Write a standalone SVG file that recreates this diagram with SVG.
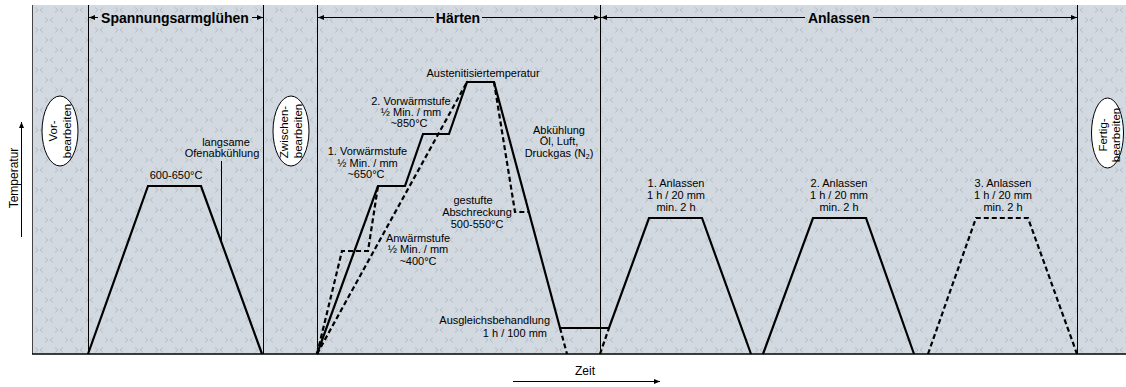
<svg xmlns="http://www.w3.org/2000/svg" width="1126" height="387" viewBox="0 0 1126 387">
<style>
text{font-family:"Liberation Sans",Arial,sans-serif;fill:#000}
.h{font-size:14px;font-weight:bold;text-anchor:middle}
.l{font-size:11px;text-anchor:middle}
.e{font-size:11.5px;text-anchor:middle}
.sep{stroke:#000;stroke-width:1;fill:none}
.c{stroke:#000;stroke-width:2.2;fill:none;stroke-linejoin:miter}
.d{stroke:#000;stroke-width:2.2;fill:none;stroke-dasharray:5 3}
.thin{stroke:#000;stroke-width:1;fill:none}
.node{fill:#fff;stroke:#000;stroke-width:1}
</style>
<defs>
<pattern id="pat" patternUnits="userSpaceOnUse" x="14" y="5" width="20" height="20">
<path d="M1,2.5 L4,5 L1,7.5 M9,2.5 L6,5 L9,7.5 M11,12.5 L14,15 L11,17.5 M19,12.5 L16,15 L19,17.5" stroke="#b6bec6" stroke-width="1" fill="none"/>
</pattern>
<marker id="ah" markerUnits="userSpaceOnUse" markerWidth="7" markerHeight="6" refX="6" refY="2.5" orient="auto">
<path d="M0,0 L6,2.5 L0,5 z" fill="#000"/>
</marker>
</defs>
<g id="background">
<rect x="32" y="5" width="1094" height="349" fill="#d2d9e0"/>
<rect x="32" y="5" width="1094" height="349" fill="url(#pat)"/>
<line x1="32.5" y1="5" x2="32.5" y2="354" stroke="#444" stroke-width="1"/>
<line x1="32" y1="354" x2="1126" y2="354" stroke="#000" stroke-width="1.5"/>
</g>
<g id="separators">
<line class="sep" x1="88.5" y1="5" x2="88.5" y2="354"/>
<line class="sep" x1="263.5" y1="5" x2="263.5" y2="354"/>
<line class="sep" x1="317.5" y1="5" x2="317.5" y2="354"/>
<line class="sep" x1="600.5" y1="5" x2="600.5" y2="354"/>
<line class="sep" x1="1077.5" y1="5" x2="1077.5" y2="354"/>
</g>
<g id="connectors">
<line class="thin" x1="98" y1="17.5" x2="89" y2="17.5" marker-end="url(#ah)"/>
<line class="thin" x1="252" y1="17.5" x2="263" y2="17.5" marker-end="url(#ah)"/>
<line class="thin" x1="434" y1="17.5" x2="318" y2="17.5" marker-end="url(#ah)"/>
<line class="thin" x1="482" y1="17.5" x2="600" y2="17.5" marker-end="url(#ah)"/>
<line class="thin" x1="805" y1="17.5" x2="601" y2="17.5" marker-end="url(#ah)"/>
<line class="thin" x1="873" y1="17.5" x2="1077" y2="17.5" marker-end="url(#ah)"/>
<line class="thin" x1="21.5" y1="237" x2="21.5" y2="122" marker-end="url(#ah)"/>
<line class="thin" x1="513" y1="381.5" x2="660" y2="381.5" marker-end="url(#ah)"/>
<line class="thin" x1="221.5" y1="161" x2="221.5" y2="241"/>
</g>
<g id="headers">
<text class="h" x="175" y="23">Spannungsarmglühen</text>
<text class="h" x="458" y="23">Härten</text>
<text class="h" x="839" y="23">Anlassen</text>
</g>
<g id="node-vor">
<ellipse class="node" cx="60" cy="131" rx="18" ry="35"/>
<text class="e" transform="translate(57,131) rotate(-90)">Vor-</text>
<text class="e" transform="translate(71,131) rotate(-90)">bearbeiten</text>
</g>
<g id="node-zwischen">
<ellipse class="node" cx="291" cy="131" rx="18" ry="35"/>
<text class="e" transform="translate(288,132) rotate(-90)">Zwischen-</text>
<text class="e" transform="translate(302,131) rotate(-90)">bearbeiten</text>
</g>
<g id="node-fertig">
<ellipse class="node" cx="1107.5" cy="133" rx="16" ry="35"/>
<text class="e" transform="translate(1107,135) rotate(-90)">Fertig-</text>
<text class="e" transform="translate(1120,135) rotate(-90)">bearbeiten</text>
</g>
<g id="curves">
<polyline class="c" points="88,354 148,186 201,186 262,354"/>
<polyline class="c" points="317,354 378,186 405,186 423,134 449,134 467,82 494,82 560,328 609,328 649,218 702,218 751,354"/>
<polyline class="d" points="317,354 342,251 368,251 378,186"/>
<line class="d" x1="317" y1="354" x2="467" y2="82"/>
<polyline class="d" points="494,82 515,212 529,212"/>
<line class="d" x1="560" y1="328" x2="567" y2="354"/>
<line class="d" x1="600" y1="354" x2="609" y2="328"/>
<polyline class="c" points="763,354 813,218 866,218 914,354"/>
<polyline class="d" points="928,354 976,218 1028,218 1077,354"/>
</g>
<g id="labels">
<text class="l" x="176" y="179">600-650°C</text>
<text class="l" x="226" y="146">langsame</text>
<text class="l" x="222" y="157">Ofenabkühlung</text>
<text class="l" x="483" y="77">Austenitisiertemperatur</text>
<text class="l" x="411" y="105">2. Vorwärmstufe</text>
<text class="l" x="411" y="116">½ Min. / mm</text>
<text class="l" x="409" y="127">~850°C</text>
<text class="l" x="367.5" y="155">1. Vorwärmstufe</text>
<text class="l" x="367.5" y="167">½ Min. / mm</text>
<text class="l" x="366" y="178">~650°C</text>
<text class="l" x="559" y="134">Abkühlung</text>
<text class="l" x="559" y="145">Öl, Luft,</text>
<text class="l" x="559" y="157">Druckgas (N<tspan font-size="7" dy="2">2</tspan><tspan dy="-2">)</tspan></text>
<text class="l" x="473" y="204">gestufte</text>
<text class="l" x="477" y="216">Abschreckung</text>
<text class="l" x="477" y="228">500-550°C</text>
<text class="l" x="418" y="242">Anwärmstufe</text>
<text class="l" x="418" y="253">½ Min. / mm</text>
<text class="l" x="418" y="265">~400°C</text>
<text class="l" x="550" y="324" style="text-anchor:end">Ausgleichsbehandlung</text>
<text class="l" x="547" y="337" style="text-anchor:end">1 h / 100 mm</text>
<text class="l" x="676" y="187">1. Anlassen</text>
<text class="l" x="676" y="199">1 h / 20 mm</text>
<text class="l" x="676" y="211">min. 2 h</text>
<text class="l" x="839" y="187">2. Anlassen</text>
<text class="l" x="839" y="199">1 h / 20 mm</text>
<text class="l" x="839" y="211">min. 2 h</text>
<text class="l" x="1003" y="187">3. Anlassen</text>
<text class="l" x="1003" y="199">1 h / 20 mm</text>
<text class="l" x="1003" y="211">min. 2 h</text>
</g>
<g id="axes">
<text style="font-size:12px;text-anchor:middle" transform="translate(18,178) rotate(-90)">Temperatur</text>
<text style="font-size:12px;text-anchor:middle" x="585" y="375">Zeit</text>
</g>
</svg>
